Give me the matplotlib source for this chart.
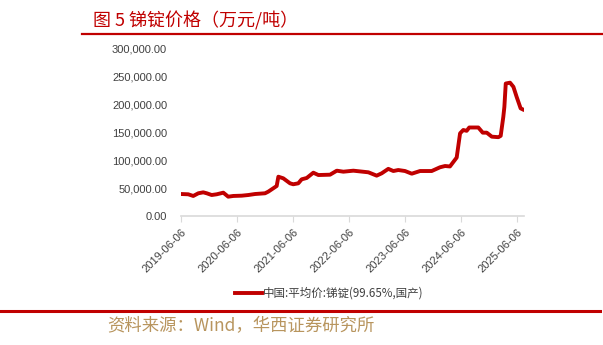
import matplotlib
matplotlib.use("Agg")
import matplotlib.pyplot as plt
from matplotlib.lines import Line2D
import pandas as pd

plt.rcParams['font.family'] = ['Noto Sans CJK SC', 'DejaVu Sans']

dates = ["2019-06-06", "2019-07-23", "2019-08-25", "2019-09-27", "2019-10-29", "2019-11-21",
         "2019-12-23", "2020-01-25", "2020-03-08", "2020-04-09", "2020-05-12", "2020-07-06",
         "2020-08-18", "2020-10-01", "2020-12-05", "2020-12-26", "2021-01-28", "2021-02-19",
         "2021-03-02", "2021-04-03", "2021-05-17", "2021-06-07", "2021-07-10", "2021-08-01",
         "2021-09-03", "2021-10-16", "2021-11-18", "2022-02-02", "2022-03-18", "2022-04-30",
         "2022-07-04", "2022-10-10", "2022-12-03", "2023-01-05", "2023-02-17", "2023-03-22",
         "2023-04-23", "2023-06-06", "2023-07-20", "2023-09-12", "2023-11-27", "2024-01-20",
         "2024-02-22", "2024-03-25", "2024-05-08", "2024-05-30", "2024-06-20", "2024-07-12",
         "2024-07-29", "2024-09-26", "2024-10-25", "2024-11-20", "2024-12-23", "2025-02-04",
         "2025-02-19", "2025-03-08", "2025-03-15", "2025-03-24", "2025-04-21", "2025-05-13",
         "2025-06-03", "2025-06-29", "2025-07-21"]
prices = [39500, 39000, 36000, 40800, 42500, 40800,
          37700, 39000, 41900, 34700, 36000, 36500,
          37700, 39500, 40800, 43700, 49800, 53900,
          70600, 67700, 58700, 57000, 58700, 65900,
          68300, 77800, 73600, 74200, 81400, 79600,
          81400, 78500, 72500, 76700, 84700, 80800,
          82600, 80800, 76000, 80800, 80800, 87500,
          89800, 89000, 105000, 148500, 154500, 153000,
          159000, 159000, 149700, 149700, 142500, 141600,
          144000, 178000, 196000, 238000, 239500, 232000,
          214000, 193400, 190400]
tick_labels = ["2019-06-06", "2020-06-06", "2021-06-06", "2022-06-06",
               "2023-06-06", "2024-06-06", "2025-06-06"]
y_ticks = [0, 50000, 100000, 150000, 200000, 250000, 300000]
series_name = "中国:平均价:锑锭(99.65%,国产)"
title = "图 5 锑锭价格（万元/吨）"
source = "资料来源：Wind，华西证券研究所"

W, H = 603, 345
fig = plt.figure(figsize=(W / 100, H / 100), dpi=100)
ax = fig.add_axes([181 / W, 1 - 216 / H, (524 - 181) / W, (216 - 49) / H])

x = pd.to_datetime(dates)
ax.plot(x, prices, color="#c00000", lw=2.8, solid_joinstyle="round",
        solid_capstyle="round", label=series_name)

ax.set_xlim(pd.Timestamp(dates[0]), pd.Timestamp(dates[-1]))
ax.set_ylim(0, 300000)
ax.set_yticks(y_ticks)
ax.set_yticklabels([f"{v:,.2f}" for v in y_ticks], fontsize=8, color="#404040",
                   family=["Liberation Sans"])
ax.tick_params(axis="y", length=0, pad=10)

tick_pos = pd.to_datetime(tick_labels)
ax.set_xticks(tick_pos)
ax.set_xticklabels(tick_labels, rotation=45, ha="right", rotation_mode="anchor",
                   fontsize=8, color="#404040", family=["Liberation Sans"])
ax.tick_params(axis="x", direction="out", length=4, color="#d9d9d9", pad=4)

for s in ["top", "right", "left"]:
    ax.spines[s].set_visible(False)
ax.spines["bottom"].set_color("#d9d9d9")
ax.spines["bottom"].set_linewidth(1.2)

# Legend
fig.add_artist(Line2D([235 / W, 262 / W], [1 - 293 / H] * 2, color="#c00000", lw=2.8,
                      transform=fig.transFigure))
fig.text(263 / W, 1 - 293 / H, series_name, fontsize=8.3, color="#404040",
         va="center", ha="left")

# Title and rules
fig.text(93 / W, 1 - 21 / H, title, fontsize=13, color="#c00000",
         va="center", ha="left")
fig.add_artist(Line2D([82 / W, 1.0], [1 - 34 / H] * 2, color="#c00000", lw=1.6,
                      transform=fig.transFigure))
fig.add_artist(Line2D([0, 600 / W], [1 - 311 / H] * 2, color="#c00000", lw=2.2,
                      transform=fig.transFigure))
fig.text(107 / W, 1 - 326 / H, source, fontsize=12.5, color="#b8955e",
         va="center", ha="left")

fig.savefig("out.png", dpi=100)
